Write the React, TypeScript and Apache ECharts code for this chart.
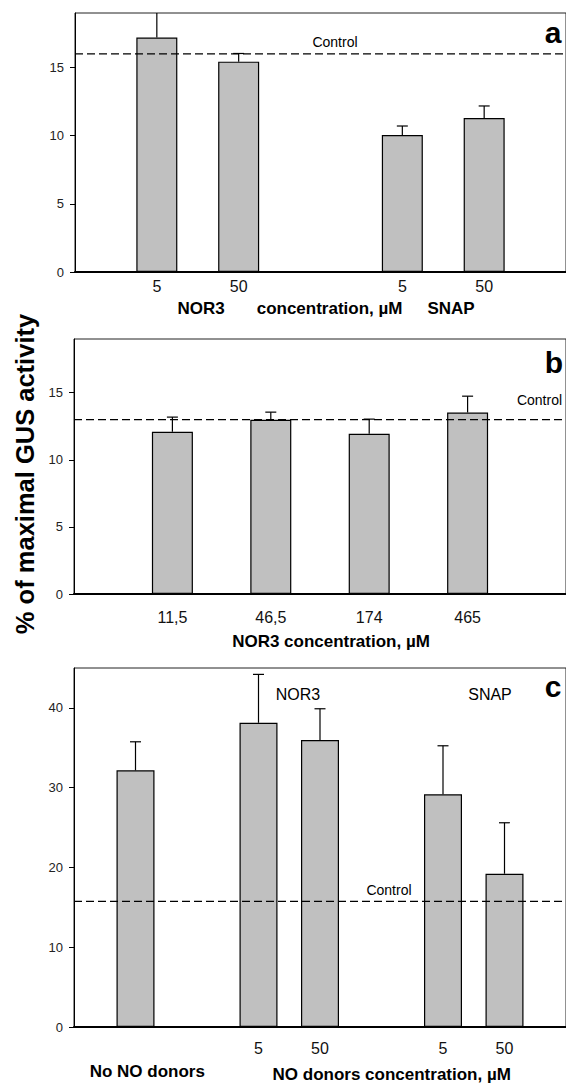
import React, { useEffect, useRef } from "react";
import * as echarts from "echarts";

// Panel a
const xPosA = [1, 2, 4, 5];
const valuesA = [17.2, 15.43, 10.05, 11.3];
const errorsA = [2.6, 0.6, 0.66, 0.88];
const tickLabelsA = ["5", "50", "5", "50"];
const controlA = 16;

// Panel b
const xPosB = [1, 2, 3, 4];
const valuesB = [12.09, 12.98, 11.94, 13.52];
const errorsB = [1.09, 0.57, 1.09, 1.22];
const tickLabelsB = ["11,5", "46,5", "174", "465"];
const controlB = 13;

// Panel c
const xPosC = [1, 3, 4, 6, 7];
const valuesC = [32.17, 38.13, 35.96, 29.16, 19.21];
const errorsC = [3.58, 6.07, 3.93, 6.09, 6.39];
const tickLabelsC = ["", "5", "50", "5", "50"];
const controlC = 15.75;

const yTicksAB = [0, 5, 10, 15];
const yTicksC = [0, 10, 20, 30, 40];

const FONT = "'Liberation Sans', Arial, Helvetica, sans-serif";

function makeText(text: string, x: number, y: number, size: number, bold = false, align = "center", rotation = 0) {
  return {
    type: "text",
    x,
    y,
    rotation,
    silent: true,
    style: {
      text,
      fontSize: size,
      fontWeight: bold ? "bold" : "normal",
      fontFamily: FONT,
      fill: "#000",
      align,
      verticalAlign: "middle",
    },
  };
}

export default function App() {
  const ref = useRef<HTMLDivElement>(null);
  useEffect(() => {
    if (!ref.current) return;
    const chart = echarts.init(ref.current, undefined, { renderer: "svg" });

    const panels = [
      { xPos: xPosA, values: valuesA, errors: errorsA, labels: tickLabelsA, control: controlA, xMax: 6, yMax: 19, yTicks: yTicksAB, barWidth: 41, labelMargin: 6, grid: { left: 75, top: 13, width: 500, height: 259 } },
      { xPos: xPosB, values: valuesB, errors: errorsB, labels: tickLabelsB, control: controlB, xMax: 5, yMax: 19, yTicks: yTicksAB, barWidth: 41, labelMargin: 15, grid: { left: 74, top: 339, width: 499, height: 255 } },
      { xPos: xPosC, values: valuesC, errors: errorsC, labels: tickLabelsC, control: controlC, xMax: 8, yMax: 45, yTicks: yTicksC, barWidth: 38, labelMargin: 13, grid: { left: 74, top: 668, width: 502, height: 359 } },
    ];

    const grid: any[] = [];
    const xAxis: any[] = [];
    const yAxis: any[] = [];
    const series: any[] = [];

    panels.forEach((p, i) => {
      grid.push({ ...p.grid, show: true, borderColor: "#222", borderWidth: 1, containLabel: false });
      xAxis.push({
        type: "value",
        gridIndex: i,
        min: 0,
        max: p.xMax,
        axisLine: { show: true, lineStyle: { color: "#000", width: 2 } },
        axisTick: { show: false },
        splitLine: { show: false },
        axisLabel: {
          customValues: p.xPos,
          formatter: (v: number) => {
            const k = p.xPos.indexOf(v);
            return k >= 0 ? p.labels[k] : "";
          },
          fontSize: 16,
          fontFamily: FONT,
          color: "#111",
          margin: p.labelMargin,
        },
      });
      yAxis.push({
        type: "value",
        gridIndex: i,
        min: 0,
        max: p.yMax,
        interval: 5,
        axisLine: { show: true, lineStyle: { color: "#000", width: 1 } },
        axisTick: { show: true, customValues: p.yTicks, length: 5, inside: false, lineStyle: { color: "#000" } },
        axisLabel: { customValues: p.yTicks, fontSize: 13, fontFamily: FONT, color: "#222", margin: 11 },
        splitLine: { show: false },
      });
      series.push({
        type: "bar",
        xAxisIndex: i,
        yAxisIndex: i,
        barWidth: p.barWidth,
        data: p.xPos.map((x, k) => [x, p.values[k]]),
        itemStyle: { color: "#c0c0c0", borderColor: "#000", borderWidth: 1.2 },
        silent: true,
        z: 2,
      });
      series.push({
        type: "custom",
        xAxisIndex: i,
        yAxisIndex: i,
        clip: true,
        silent: true,
        z: 3,
        encode: { x: 0, y: [1, 2] },
        data: p.xPos.map((x, k) => [x, p.values[k], p.values[k] + p.errors[k]]),
        renderItem: (params: any, api: any) => {
          const x = api.value(0);
          const lo = api.coord([x, api.value(1)]);
          const hi = api.coord([x, api.value(2)]);
          const half = 5.5;
          const style = { stroke: "#000", lineWidth: 1.2 };
          return {
            type: "group",
            children: [
              { type: "line", shape: { x1: lo[0], y1: lo[1], x2: hi[0], y2: hi[1] }, style },
              { type: "line", shape: { x1: hi[0] - half, y1: hi[1], x2: hi[0] + half, y2: hi[1] }, style },
            ],
          };
        },
      });
      series.push({
        type: "line",
        xAxisIndex: i,
        yAxisIndex: i,
        data: [[0, p.control], [p.xMax, p.control]],
        symbol: "none",
        silent: true,
        z: 5,
        lineStyle: { color: "#000", width: 1.2, type: [8, 4] },
      });
    });

    const graphic = [
      makeText("% of maximal GUS activity", 24.5, 474, 25.5, true, "center", Math.PI / 2),
      // panel a
      makeText("a", 553, 32.5, 30, true),
      makeText("Control", 335, 41.5, 14),
      makeText("NOR3", 201, 308, 17, true),
      makeText("concentration, µM", 329.6, 308, 17, true),
      makeText("SNAP", 451, 308, 17, true),
      // panel b
      makeText("b", 554, 362, 30, true),
      makeText("Control", 539.5, 399.5, 14),
      makeText("NOR3 concentration, µM", 331, 641.5, 17, true),
      // panel c
      makeText("c", 553, 686, 30, true),
      makeText("NOR3", 298, 694, 16),
      makeText("SNAP", 490, 694.5, 16),
      makeText("Control", 389, 889.5, 14),
      makeText("No NO donors", 147.3, 1071.5, 17, true),
      makeText("NO donors concentration, µM", 391.7, 1074, 17, true),
    ];

    chart.setOption({
      animation: false,
      backgroundColor: "#fff",
      grid,
      xAxis,
      yAxis,
      series,
      graphic,
    });
    return () => chart.dispose();
  }, []);
  return <div ref={ref} style={{ position: "fixed", left: 0, top: 0, width: 566, height: 1083, background: "#fff" }} />;
}
